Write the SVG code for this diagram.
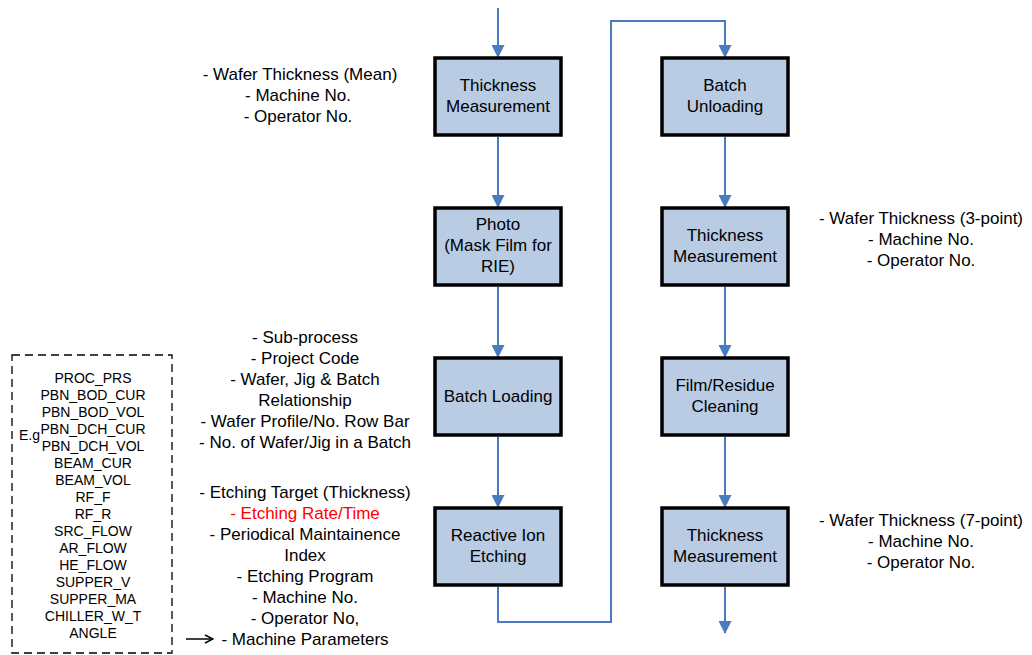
<svg xmlns="http://www.w3.org/2000/svg" width="1032" height="655" viewBox="0 0 1032 655">
  <style>
    .box { fill: #b9cce4; stroke: #000; stroke-width: 3.5; }
    .lbl { font-family: "Liberation Sans", Arial, sans-serif; font-size: 17px; fill: #000; text-anchor: middle; }
    .red { fill: #ff0000; }
    .par { font-family: "Liberation Sans", Arial, sans-serif; font-size: 14px; fill: #000; text-anchor: middle; }
    .flow { fill: none; stroke: #4a7bc0; stroke-width: 2; }
  </style>
  <defs>
    <marker id="tri" markerWidth="13" markerHeight="13" refX="12" refY="6.5" orient="auto" markerUnits="userSpaceOnUse">
      <path d="M0,0 L13,6.5 L0,13 Z" fill="#4a7bc0"/>
    </marker>
    <marker id="open" markerWidth="10" markerHeight="10" refX="9" refY="5" orient="auto" markerUnits="userSpaceOnUse">
      <path d="M1,1 L9,5 L1,9" fill="none" stroke="#000" stroke-width="1.5"/>
    </marker>
  </defs>

  <!-- connectors -->
  <g id="connectors">
    <path class="flow" d="M498,8 V57" marker-end="url(#tri)"/>
    <path class="flow" d="M498,137 V207" marker-end="url(#tri)"/>
    <path class="flow" d="M498,287 V357" marker-end="url(#tri)"/>
    <path class="flow" d="M498,437 V507" marker-end="url(#tri)"/>
    <path class="flow" d="M498,587 V622 H611 V21 H725 V57" marker-end="url(#tri)"/>
    <path class="flow" d="M725,137 V207" marker-end="url(#tri)"/>
    <path class="flow" d="M725,287 V357" marker-end="url(#tri)"/>
    <path class="flow" d="M725,437 V507" marker-end="url(#tri)"/>
    <path class="flow" d="M725,587 V633" marker-end="url(#tri)"/>
    <path d="M186,639 H213" fill="none" stroke="#000" stroke-width="1.5" marker-end="url(#open)"/>
  </g>

  <!-- left column -->
  <g id="thickness-1">
    <rect class="box" x="435" y="58" width="126" height="77"/>
    <text class="lbl" x="498" y="91">Thickness</text>
    <text class="lbl" x="498" y="112">Measurement</text>
  </g>
  <g id="photo">
    <rect class="box" x="435" y="208" width="126" height="77"/>
    <text class="lbl" x="498" y="230">Photo</text>
    <text class="lbl" x="498" y="251">(Mask Film for</text>
    <text class="lbl" x="498" y="272">RIE)</text>
  </g>
  <g id="batch-loading">
    <rect class="box" x="435" y="358" width="126" height="77"/>
    <text class="lbl" x="498" y="402">Batch Loading</text>
  </g>
  <g id="rie">
    <rect class="box" x="435" y="508" width="126" height="77"/>
    <text class="lbl" x="498" y="541">Reactive Ion</text>
    <text class="lbl" x="498" y="562">Etching</text>
  </g>

  <!-- right column -->
  <g id="batch-unloading">
    <rect class="box" x="662" y="58" width="126" height="77"/>
    <text class="lbl" x="725" y="91">Batch</text>
    <text class="lbl" x="725" y="112">Unloading</text>
  </g>
  <g id="thickness-2">
    <rect class="box" x="662" y="208" width="126" height="77"/>
    <text class="lbl" x="725" y="241">Thickness</text>
    <text class="lbl" x="725" y="262">Measurement</text>
  </g>
  <g id="cleaning">
    <rect class="box" x="662" y="358" width="126" height="77"/>
    <text class="lbl" x="725" y="391">Film/Residue</text>
    <text class="lbl" x="725" y="412">Cleaning</text>
  </g>
  <g id="thickness-3">
    <rect class="box" x="662" y="508" width="126" height="77"/>
    <text class="lbl" x="725" y="541">Thickness</text>
    <text class="lbl" x="725" y="562">Measurement</text>
  </g>

  <!-- data notes -->
  <g id="note-thickness-1">
    <text class="lbl" x="300" y="80">- Wafer Thickness (Mean)</text>
    <text class="lbl" x="298" y="101">- Machine No.</text>
    <text class="lbl" x="298" y="122">- Operator No.</text>
  </g>
  <g id="note-batch-loading">
    <text class="lbl" x="305" y="343">- Sub-process</text>
    <text class="lbl" x="305" y="364">- Project Code</text>
    <text class="lbl" x="305" y="385">- Wafer, Jig &amp; Batch</text>
    <text class="lbl" x="305" y="406">Relationship</text>
    <text class="lbl" x="305" y="427">- Wafer Profile/No. Row Bar</text>
    <text class="lbl" x="305" y="448">- No. of Wafer/Jig in a Batch</text>
  </g>
  <g id="note-rie">
    <text class="lbl" x="305" y="498">- Etching Target (Thickness)</text>
    <text class="lbl red" x="305" y="519">- Etching Rate/Time</text>
    <text class="lbl" x="305" y="540">- Periodical Maintainence</text>
    <text class="lbl" x="305" y="561">Index</text>
    <text class="lbl" x="305" y="582">- Etching Program</text>
    <text class="lbl" x="305" y="603">- Machine No.</text>
    <text class="lbl" x="305" y="624">- Operator No,</text>
    <text class="lbl" x="305" y="645">- Machine Parameters</text>
  </g>
  <g id="note-thickness-2">
    <text class="lbl" x="921" y="224">- Wafer Thickness (3-point)</text>
    <text class="lbl" x="921" y="245">- Machine No.</text>
    <text class="lbl" x="921" y="266">- Operator No.</text>
  </g>
  <g id="note-thickness-3">
    <text class="lbl" x="921" y="526">- Wafer Thickness (7-point)</text>
    <text class="lbl" x="921" y="547">- Machine No.</text>
    <text class="lbl" x="921" y="568">- Operator No.</text>
  </g>

  <!-- machine parameter list -->
  <g id="parameters">
    <rect x="12" y="355" width="160" height="298" fill="none" stroke="#000" stroke-width="1.3" stroke-dasharray="8,5"/>
    <text class="par" x="19" y="440" style="text-anchor:start">E.g</text>
    <text class="par" x="93" y="383">PROC_PRS</text>
    <text class="par" x="93" y="400">PBN_BOD_CUR</text>
    <text class="par" x="93" y="417">PBN_BOD_VOL</text>
    <text class="par" x="93" y="434">PBN_DCH_CUR</text>
    <text class="par" x="93" y="451">PBN_DCH_VOL</text>
    <text class="par" x="93" y="468">BEAM_CUR</text>
    <text class="par" x="93" y="485">BEAM_VOL</text>
    <text class="par" x="93" y="502">RF_F</text>
    <text class="par" x="93" y="519">RF_R</text>
    <text class="par" x="93" y="536">SRC_FLOW</text>
    <text class="par" x="93" y="553">AR_FLOW</text>
    <text class="par" x="93" y="570">HE_FLOW</text>
    <text class="par" x="93" y="587">SUPPER_V</text>
    <text class="par" x="93" y="604">SUPPER_MA</text>
    <text class="par" x="93" y="621">CHILLER_W_T</text>
    <text class="par" x="93" y="638">ANGLE</text>
  </g>
</svg>
